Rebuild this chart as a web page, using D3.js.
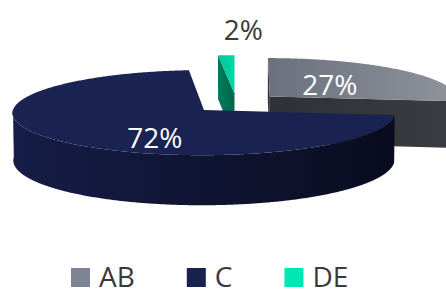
<!DOCTYPE html>
<html>
<head>
<meta charset="utf-8">
<script src="https://cdn.jsdelivr.net/npm/d3@7"></script>
<style>
  body { margin: 0; background: #fff; }
  text { font-family: "Open Sans", sans-serif; }
</style>
</head>
<body>
<div id="chart"></div>
<script>
/*******************************/
/*    Data                     */
/*******************************/
const categories = ["AB", "C", "DE"];
const shares = [26.9, 71.6, 1.5];

/*******************************/
/*    Styles                   */
/*******************************/
const legendColors = ["#7D8494", "#19224F", "#00E6B4"];
const topColors = [["#6B717D", "#8E939C"], ["#1A2352", "#1A2251"], ["#00C697", "#00D8A7"]];
const sideColors = [["#2F3137", "#3A3C42"], ["#161D47", "#090C1F"], ["#007A5B", "#00684C"]];
const labelColors = ["#FFFFFF", "#FFFFFF", "#3A3A3A"];
const labelFrac = [0.44, 0.35, 1.0];
const labelShift = [[0, 0], [0, 17], [17, -25]];

/*******************************/
/*    Constants                */
/*******************************/
const width = 446;
const height = 290;
const R = 189;             // pie radius
const tilt = 12.7 * Math.PI / 180;
const thick = 48;          // slab thickness
const dist = 3000;         // perspective distance
const explode = 45;
const cx = 236.5, cy = 103;
const step = Math.PI / 360;

const svg = d3.select("#chart")
  .append("svg")
    .attr("width", width)
    .attr("height", height);

const defs = svg.append("defs");

// project a 3D point (x right, y up, z away from viewer)
const project = (x, y, z) => {
  const d = z * Math.cos(tilt) - y * Math.sin(tilt);
  const s = dist / (dist + d);
  return [cx + x * s, cy - (y * Math.cos(tilt) + z * Math.sin(tilt)) * s];
};

const line = d3.line().curve(d3.curveLinearClosed);

/*******************************/
/*    Pie layout               */
/*******************************/
const data = categories.map((c, i) => ({category: c, value: shares[i], i}));
const arcs = d3.pie()
  .sort(null)
  .value(d => d.value)(data);

arcs.forEach(a => {
  const m = (a.startAngle + a.endAngle) / 2;
  a.mid = m;
  a.ox = explode * Math.sin(m);
  a.oz = explode * Math.cos(m);
});

const rim = (a, t, y) => project(a.ox + R * Math.sin(t), y, a.oz + R * Math.cos(t));
const range = (t0, t1) => {
  const out = d3.range(t0, t1, step);
  out.push(t1);
  return out;
};

// gradient helper
const grad = (id, c0, c1) => {
  const g = defs.append("linearGradient").attr("id", id)
    .attr("x1", 0).attr("x2", 1).attr("y1", 0).attr("y2", 0);
  g.append("stop").attr("offset", 0).attr("stop-color", c0);
  g.append("stop").attr("offset", 1).attr("stop-color", c1);
  return `url(#${id})`;
};

// draw back slices first
const order = arcs.slice().sort((p, q) => q.oz - p.oz);

const pieG = svg.append("g");

order.forEach(a => {
  const i = a.data.i;
  const g = pieG.append("g");
  const topFill = grad(`top${i}`, topColors[i][0], topColors[i][1]);
  const sideFill = grad(`side${i}`, sideColors[i][0], sideColors[i][1]);

  // radial cut faces (back-face culled by winding)
  [a.startAngle, a.endAngle].forEach((t, k) => {
    const pts = [
      project(a.ox, 0, a.oz),
      rim(a, t, 0),
      rim(a, t, -thick),
      project(a.ox, -thick, a.oz)
    ];
    const ar = d3.polygonArea(pts);
    const visible = k === 1 ? ar < 0 : ar > 0;
    if (visible) {
      g.append("path")
        .attr("d", line(pts))
        .attr("fill", sideFill);
    }
  });

  // outer wall, front-facing part
  const t0 = Math.max(a.startAngle, Math.PI / 2);
  const t1 = Math.min(a.endAngle, 3 * Math.PI / 2);
  if (t0 < t1) {
    const ts = range(t0, t1);
    const pts = ts.map(t => rim(a, t, 0))
      .concat(ts.slice().reverse().map(t => rim(a, t, -thick)));
    g.append("path")
      .attr("d", line(pts))
      .attr("fill", sideFill);
  }

  // top face
  const topPts = [project(a.ox, 0, a.oz)]
    .concat(range(a.startAngle, a.endAngle).map(t => rim(a, t, 0)));
  g.append("path")
    .attr("d", line(topPts))
    .attr("fill", topFill);
});

/*******************************/
/*    Labels                   */
/*******************************/
arcs.forEach(a => {
  const i = a.data.i;
  const r = R * labelFrac[i];
  const p = project(a.ox + r * Math.sin(a.mid), 0, a.oz + r * Math.cos(a.mid));
  svg.append("text")
    .attr("x", p[0] + labelShift[i][0])
    .attr("y", p[1] + labelShift[i][1])
    .attr("dy", "0.36em")
    .attr("text-anchor", "middle")
    .attr("font-size", 28)
    .attr("fill", labelColors[i])
    .text(`${Math.round(a.data.value)}%`);
});

/*******************************/
/*    Legend                   */
/*******************************/
const legend = svg.append("g")
  .attr("transform", `translate(71, 268)`);
let lx = 0;
categories.forEach((c, i) => {
  const item = legend.append("g").attr("transform", `translate(${lx}, 0)`);
  item.append("rect")
    .attr("width", 19)
    .attr("height", 19)
    .attr("fill", legendColors[i]);
  const t = item.append("text")
    .attr("x", 28)
    .attr("y", 19)
    .attr("font-size", 28)
    .attr("fill", "#3A3A3A")
    .text(c);
  lx += 28 + t.node().getComputedTextLength() + 52;
});
</script>
</body>
</html>
